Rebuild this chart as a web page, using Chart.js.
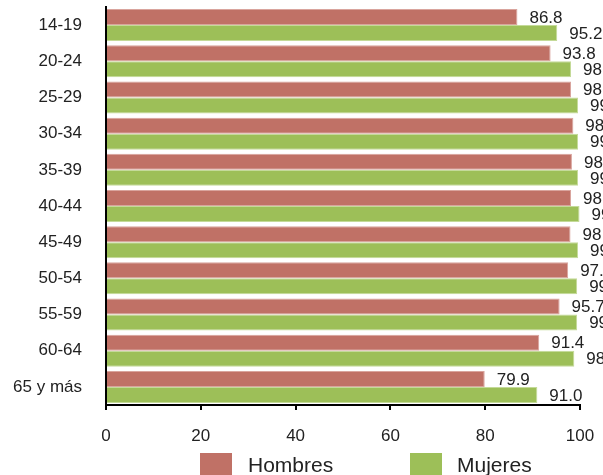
<!DOCTYPE html>
<html><head><meta charset="utf-8">
<script src="https://cdn.jsdelivr.net/npm/chart.js@4/dist/chart.umd.min.js"></script>
<style>html,body{margin:0;padding:0;background:#fff;overflow:hidden}#wrap{width:603px;height:475px;position:relative}</style>
</head><body><div id="wrap"><canvas id="c"></canvas></div>
<script>
const categories = ['14-19','20-24','25-29','30-34','35-39','40-44','45-49','50-54','55-59','60-64','65 y más'];
const hombres = [86.8, 93.8, 98.1, 98.6, 98.3, 98.1, 98.0, 97.5, 95.7, 91.4, 79.9];
const mujeres = [95.2, 98.1, 99.6, 99.6, 99.6, 99.9, 99.6, 99.4, 99.4, 98.8, 91.0];
const xTicks = [0, 20, 40, 60, 80, 100];
const seriesNames = ['Hombres', 'Mujeres'];

const FONT = '"Liberation Sans", Arial, sans-serif';
const TEXT = '#222222';

const valueLabels = {
  id: 'valueLabels',
  afterDatasetsDraw(chart) {
    const ctx = chart.ctx;
    ctx.save();
    ctx.font = '17px ' + FONT;
    ctx.fillStyle = TEXT;
    ctx.textAlign = 'left';
    ctx.textBaseline = 'middle';
    chart.data.datasets.forEach((ds, i) => {
      chart.getDatasetMeta(i).data.forEach((bar, j) => {
        ctx.fillText(ds.data[j].toFixed(1), bar.x + 12, bar.y + 1);
      });
    });
    ctx.restore();
  }
};

const customLegend = {
  id: 'customLegend',
  afterDraw(chart) {
    const ctx = chart.ctx;
    const items = [{bx: 200, tx: 248}, {bx: 410, tx: 457}];
    ctx.save();
    ctx.font = '21px ' + FONT;
    ctx.textAlign = 'left';
    ctx.textBaseline = 'alphabetic';
    chart.data.datasets.forEach((ds, i) => {
      const it = items[i];
      ctx.fillStyle = ds.backgroundColor;
      ctx.fillRect(it.bx, 453, 32, 24);
      ctx.fillStyle = TEXT;
      ctx.fillText(ds.label, it.tx, 472);
    });
    ctx.restore();
  }
};

new Chart(document.getElementById('c'), {
  type: 'bar',
  data: {
    labels: categories,
    datasets: [
      {label: seriesNames[0], data: hombres, backgroundColor: '#C07166', borderColor: '#D9A49D', borderWidth: 1},
      {label: seriesNames[1], data: mujeres, backgroundColor: '#9DBF58', borderColor: '#C4DA98', borderWidth: 1}
    ]
  },
  options: {
    indexAxis: 'y',
    responsive: true,
    maintainAspectRatio: false,
    animation: false,
    devicePixelRatio: 1,
    categoryPercentage: 0.885,
    barPercentage: 1.0,
    layout: {padding: {top: 7, right: 23, bottom: 29, left: 0}},
    plugins: {legend: {display: false}, tooltip: {enabled: false}},
    scales: {
      x: {
        min: 0, max: 100,
        afterBuildTicks(scale) { scale.ticks = xTicks.map(v => ({value: v})); },
        afterFit(scale) { scale.paddingLeft = 0; scale.paddingRight = 0; scale.height = 41; },
        ticks: {font: {size: 17, family: FONT}, color: TEXT, padding: 16, maxRotation: 0},
        grid: {display: true, drawOnChartArea: false, drawTicks: true, tickLength: 5, color: '#000', lineWidth: 2},
        border: {display: true, color: '#000', width: 2}
      },
      y: {
        afterFit(scale) { scale.width = 106; scale.paddingTop = 0; scale.paddingBottom = 0; },
        ticks: {font: {size: 17, family: FONT}, color: TEXT, padding: 24},
        grid: {display: false, drawTicks: false},
        border: {display: true, color: '#000', width: 2}
      }
    }
  },
  plugins: [valueLabels, customLegend]
});
</script>
</body></html>
